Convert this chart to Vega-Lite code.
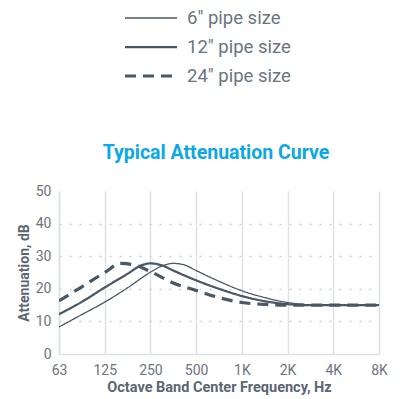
{
  "$schema": "https://vega.github.io/schema/vega-lite/v6.json",
  "width": 320,
  "height": 163,
  "autosize": {"type": "none"},
  "padding": {"left": 59, "top": 191, "right": 33, "bottom": 45},
  "background": "white",
  "title": {
    "text": "Typical Attenuation Curve",
    "font": "Roboto",
    "fontSize": 19.5,
    "fontWeight": "bold",
    "color": "#0aa8e6",
    "anchor": "middle",
    "offset": 0,
    "dy": 156,
    "dx": -3
  },
  "config": {
    "view": {"stroke": null},
    "font": "Roboto"
  },
  "data": {
    "values": [
      {"series": "6", "oct": 0, "db": 8.3},
      {"series": "6", "oct": 0.5, "db": 12.1},
      {"series": "6", "oct": 1, "db": 15.9},
      {"series": "6", "oct": 1.5, "db": 20.3},
      {"series": "6", "oct": 2, "db": 25.1},
      {"series": "6", "oct": 2.25, "db": 27.0},
      {"series": "6", "oct": 2.5, "db": 27.8},
      {"series": "6", "oct": 2.75, "db": 27.3},
      {"series": "6", "oct": 3, "db": 25.6},
      {"series": "6", "oct": 3.5, "db": 22.3},
      {"series": "6", "oct": 4, "db": 19.4},
      {"series": "6", "oct": 4.5, "db": 17.3},
      {"series": "6", "oct": 5, "db": 15.8},
      {"series": "6", "oct": 5.5, "db": 15.1},
      {"series": "6", "oct": 6, "db": 15.0},
      {"series": "6", "oct": 7, "db": 15.0},
      {"series": "12", "oct": 0, "db": 12.2},
      {"series": "12", "oct": 0.5, "db": 16.0},
      {"series": "12", "oct": 1, "db": 20.4},
      {"series": "12", "oct": 1.5, "db": 24.6},
      {"series": "12", "oct": 1.8, "db": 27.2},
      {"series": "12", "oct": 2, "db": 27.8},
      {"series": "12", "oct": 2.25, "db": 27.2},
      {"series": "12", "oct": 2.5, "db": 25.6},
      {"series": "12", "oct": 3, "db": 22.6},
      {"series": "12", "oct": 3.5, "db": 20.0},
      {"series": "12", "oct": 4, "db": 17.8},
      {"series": "12", "oct": 4.5, "db": 16.2},
      {"series": "12", "oct": 5, "db": 15.3},
      {"series": "12", "oct": 5.5, "db": 15.0},
      {"series": "12", "oct": 6, "db": 15.0},
      {"series": "12", "oct": 7, "db": 15.0},
      {"series": "24", "oct": 0, "db": 16.3},
      {"series": "24", "oct": 0.5, "db": 20.6},
      {"series": "24", "oct": 1, "db": 25.0},
      {"series": "24", "oct": 1.35, "db": 27.8},
      {"series": "24", "oct": 1.65, "db": 27.3},
      {"series": "24", "oct": 2, "db": 25.3},
      {"series": "24", "oct": 2.5, "db": 21.8},
      {"series": "24", "oct": 3, "db": 19.5},
      {"series": "24", "oct": 3.5, "db": 17.3},
      {"series": "24", "oct": 4, "db": 15.8},
      {"series": "24", "oct": 4.5, "db": 15.2},
      {"series": "24", "oct": 5, "db": 15.0},
      {"series": "24", "oct": 6, "db": 15.0},
      {"series": "24", "oct": 7, "db": 15.0}
    ]
  },
  "mark": {"type": "line", "interpolate": "monotone", "color": "#4a5765", "clip": true},
  "encoding": {
    "x": {
      "field": "oct",
      "type": "quantitative",
      "scale": {"domain": [0, 7], "nice": false, "zero": false},
      "axis": {
        "values": [0, 1, 2, 3, 4, 5, 6, 7],
        "labelExpr": "['63','125','250','500','1K','2K','4K','8K'][datum.value]",
        "labelFlush": false,
        "labelFont": "Roboto",
        "labelFontSize": 14,
        "labelColor": "#6b7480",
        "labelPadding": 9,
        "ticks": false,
        "domainColor": "#dde1e4",
        "domainWidth": 1.5,
        "gridColor": "#dde1e4",
        "gridWidth": 1.5,
        "title": "Octave Band Center Frequency, Hz",
        "titleFont": "Roboto",
        "titleFontSize": 14.5,
        "titleFontWeight": "bold",
        "titleColor": "#5b6672",
        "titlePadding": 3
      }
    },
    "y": {
      "field": "db",
      "type": "quantitative",
      "scale": {"domain": [0, 50], "nice": false},
      "axis": {
        "values": [0, 10, 20, 30, 40, 50],
        "labelFont": "Roboto",
        "labelFontSize": 14,
        "labelColor": "#6b7480",
        "labelPadding": 8,
        "ticks": false,
        "domainColor": "#dde1e4",
        "domainWidth": 1.5,
        "gridColor": "#c9ced3",
        "gridDash": [2, 8],
        "gridWidth": 1.5,
        "gridOpacity": {"condition": {"test": "datum.value == 50 || datum.value == 0", "value": 0}, "value": 1},
        "title": "Attenuation, dB",
        "titleFont": "Roboto",
        "titleFontSize": 14,
        "titleFontWeight": "bold",
        "titleColor": "#5b6672",
        "titlePadding": 4
      }
    },
    "strokeDash": {
      "field": "series",
      "type": "nominal",
      "scale": {"domain": ["6", "12", "24"], "range": [[1, 0], [1, 0], [11, 7]]},
      "legend": {
        "title": null,
        "orient": "none",
        "legendX": 64,
        "legendY": -184,
        "symbolType": "stroke",
        "symbolSize": 2704,
        "symbolStrokeColor": "#4a5765",
        "labelExpr": "datum.value == '6' ? '\u2007' + datum.value + '\" pipe size' : datum.value + '\" pipe size'",
        "labelFont": "Roboto",
        "labelFontSize": 18.5,
        "labelColor": "#6b7480",
        "labelOffset": 8,
        "clipHeight": 22,
        "rowPadding": 7
      }
    },
    "strokeWidth": {
      "field": "series",
      "type": "nominal",
      "scale": {"domain": ["6", "12", "24"], "range": [1.3, 3.2, 3.8]},
      "legend": {
        "title": null,
        "orient": "none",
        "legendX": 64,
        "legendY": -184,
        "symbolType": "stroke",
        "symbolSize": 2704,
        "symbolStrokeColor": "#4a5765",
        "labelExpr": "datum.value == '6' ? '\u2007' + datum.value + '\" pipe size' : datum.value + '\" pipe size'",
        "labelFont": "Roboto",
        "labelFontSize": 18.5,
        "labelColor": "#6b7480",
        "labelOffset": 8,
        "clipHeight": 22,
        "rowPadding": 7
      }
    }
  }
}
